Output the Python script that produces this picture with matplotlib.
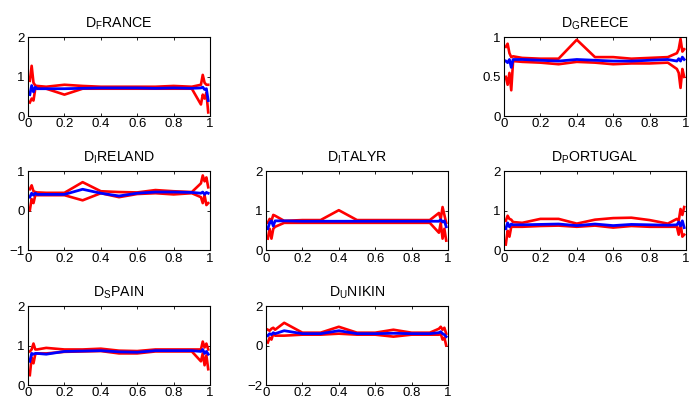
import matplotlib
matplotlib.use('Agg')
import matplotlib.pyplot as plt
import numpy as np

plt.rcParams['font.family'] = ['Liberation Sans', 'DejaVu Sans']
plt.rcParams['mathtext.default'] = 'regular'

# x grid shared by all panels
x = [0.01, 0.02, 0.03, 0.04, 0.05, 0.1, 0.2, 0.3, 0.4, 0.5, 0.6, 0.7, 0.8, 0.9,
     0.95, 0.96, 0.97, 0.98, 0.99]

names = ['FRANCE', 'GREECE', 'IRELAND', 'ITALYR', 'PORTUGAL', 'SPAIN', 'UNIKIN']

france_mid = [0.55, 0.78, 0.62, 0.74, 0.70, 0.70, 0.70, 0.71, 0.72, 0.72, 0.72, 0.71, 0.72, 0.71, 0.72, 0.74, 0.68, 0.70, 0.40]
france_hi = [0.90, 1.28, 0.85, 0.78, 0.77, 0.75, 0.80, 0.77, 0.75, 0.75, 0.75, 0.75, 0.77, 0.75, 0.80, 1.05, 0.85, 0.80, 0.80]
france_lo = [0.35, 0.45, 0.40, 0.70, 0.72, 0.70, 0.55, 0.70, 0.70, 0.70, 0.70, 0.70, 0.70, 0.70, 0.30, 0.55, 0.45, 0.60, 0.10]

greece_mid = [0.70, 0.68, 0.72, 0.62, 0.72, 0.72, 0.71, 0.70, 0.72, 0.71, 0.70, 0.70, 0.71, 0.72, 0.70, 0.73, 0.70, 0.75, 0.72]
greece_hi = [0.88, 0.92, 0.80, 0.75, 0.76, 0.74, 0.73, 0.73, 0.97, 0.75, 0.75, 0.73, 0.74, 0.75, 0.80, 0.85, 0.98, 0.82, 0.85]
greece_lo = [0.50, 0.40, 0.55, 0.33, 0.70, 0.69, 0.68, 0.66, 0.69, 0.68, 0.66, 0.67, 0.67, 0.68, 0.60, 0.55, 0.36, 0.60, 0.50]

ireland_mid = [0.35, 0.45, 0.40, 0.45, 0.42, 0.42, 0.42, 0.55, 0.45, 0.38, 0.45, 0.48, 0.48, 0.47, 0.45, 0.48, 0.42, 0.47, 0.45]
ireland_hi = [0.55, 0.65, 0.50, 0.48, 0.47, 0.46, 0.46, 0.73, 0.50, 0.48, 0.47, 0.53, 0.50, 0.48, 0.70, 0.90, 0.75, 0.85, 0.60]
ireland_lo = [0.02, 0.30, 0.20, 0.40, 0.40, 0.40, 0.40, 0.27, 0.45, 0.35, 0.43, 0.45, 0.42, 0.45, 0.35, 0.20, 0.40, 0.15, 0.20]

italy_mid = [0.55, 0.70, 0.75, 0.62, 0.75, 0.75, 0.74, 0.74, 0.74, 0.74, 0.74, 0.74, 0.74, 0.74, 0.74, 0.78, 0.72, 0.75, 0.60]
italy_hi = [0.70, 0.80, 0.75, 0.90, 0.88, 0.75, 0.77, 0.77, 1.02, 0.77, 0.77, 0.77, 0.77, 0.77, 0.95, 0.80, 1.10, 0.90, 0.70]
italy_lo = [0.30, 0.55, 0.30, 0.55, 0.60, 0.70, 0.70, 0.70, 0.70, 0.70, 0.70, 0.70, 0.70, 0.70, 0.45, 0.70, 0.30, 0.55, 0.25]

portugal_mid = [0.55, 0.70, 0.60, 0.67, 0.65, 0.65, 0.66, 0.67, 0.63, 0.67, 0.63, 0.66, 0.65, 0.64, 0.65, 0.72, 0.62, 0.75, 0.58]
portugal_hi = [0.75, 0.88, 0.80, 0.78, 0.72, 0.70, 0.80, 0.80, 0.68, 0.78, 0.82, 0.83, 0.77, 0.68, 0.80, 0.75, 1.05, 0.90, 1.10]
portugal_lo = [0.15, 0.50, 0.35, 0.60, 0.60, 0.60, 0.62, 0.63, 0.60, 0.63, 0.58, 0.62, 0.60, 0.60, 0.60, 0.40, 0.70, 0.35, 0.40]

spain_mid = [0.60, 0.80, 0.78, 0.80, 0.80, 0.78, 0.85, 0.86, 0.87, 0.84, 0.83, 0.87, 0.87, 0.87, 0.85, 0.90, 0.80, 0.85, 0.78]
spain_hi = [0.85, 0.90, 1.05, 0.90, 0.90, 0.94, 0.90, 0.90, 0.92, 0.87, 0.86, 0.90, 0.90, 0.90, 0.90, 1.10, 0.95, 1.05, 0.90]
spain_lo = [0.25, 0.70, 0.55, 0.78, 0.80, 0.80, 0.84, 0.85, 0.86, 0.80, 0.80, 0.85, 0.85, 0.85, 0.60, 0.80, 0.50, 0.75, 0.40]

unikin_mid = [0.50, 0.60, 0.55, 0.65, 0.60, 0.75, 0.60, 0.60, 0.75, 0.60, 0.60, 0.62, 0.60, 0.60, 0.65, 0.70, 0.60, 0.55, 0.45]
unikin_hi = [0.80, 0.75, 0.85, 0.90, 0.80, 1.15, 0.65, 0.65, 0.95, 0.65, 0.65, 0.80, 0.65, 0.65, 0.85, 0.95, 0.80, 0.90, 0.60]
unikin_lo = [0.15, 0.40, 0.30, 0.60, 0.50, 0.50, 0.55, 0.55, 0.60, 0.55, 0.55, 0.45, 0.55, 0.55, 0.55, 0.60, 0.30, 0.40, 0.00]

mids = [france_mid, greece_mid, ireland_mid, italy_mid, portugal_mid, spain_mid, unikin_mid]
his = [france_hi, greece_hi, ireland_hi, italy_hi, portugal_hi, spain_hi, unikin_hi]
los = [france_lo, greece_lo, ireland_lo, italy_lo, portugal_lo, spain_lo, unikin_lo]
yticks = [[0, 1, 2], [0, 0.5, 1], [-1, 0, 1], [0, 1, 2], [0, 1, 2], [0, 1, 2], [-2, 0, 2]]
yticklabels = [['0', '1', '2'], ['0', '0.5', '1'], ['\u22121', '0', '1'], ['0', '1', '2'],
               ['0', '1', '2'], ['0', '1', '2'], ['\u22122', '0', '2']]

# grid cells (row, col) used by each panel
cells = [(0, 0), (0, 2), (1, 0), (1, 1), (1, 2), (2, 0), (2, 1)]
lefts = [0.0406, 0.3855, 0.7304]
bottoms = [0.712, 0.380, 0.047]
w, h = 0.2638, 0.1955

fig = plt.figure(figsize=(6.9, 4.04), dpi=100)
for i, (r, c) in enumerate(cells):
    ax = fig.add_axes([lefts[c], bottoms[r], w, h])
    ax.plot(x, his[i], color='red', lw=1.9)
    ax.plot(x, los[i], color='red', lw=1.9)
    ax.plot(x, mids[i], color='blue', lw=2.0)
    ax.set_xlim(0, 1)
    ax.set_ylim(yticks[i][0], yticks[i][-1])
    ax.set_xticks([0, 0.2, 0.4, 0.6, 0.8, 1])
    ax.set_xticklabels(['0', '0.2', '0.4', '0.6', '0.8', '1'])
    ax.set_yticks(yticks[i])
    ax.set_yticklabels(yticklabels[i])
    ax.tick_params(direction='in', length=2.5, width=0.6, labelsize=9.5,
                   top=True, right=True)
    ax.tick_params(axis='x', pad=1.5)
    ax.tick_params(axis='y', pad=2.5)
    for s in ax.spines.values():
        s.set_linewidth(0.8)
    name = names[i]
    ax.set_title('D$_{%s}$%s' % (name[0], name[1:]), fontsize=10.2, pad=7)

fig.savefig('out.png', dpi=100)
